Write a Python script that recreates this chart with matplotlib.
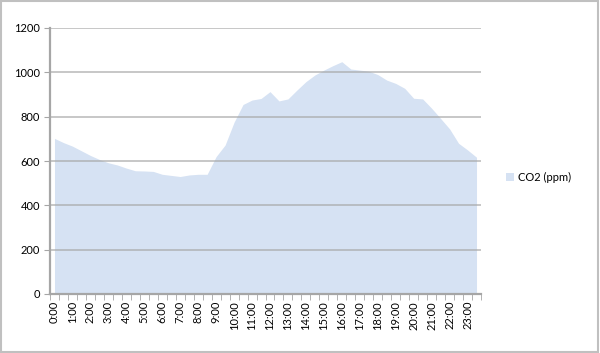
import numpy as np
import matplotlib
matplotlib.use('Agg')
import matplotlib.pyplot as plt
from matplotlib.patches import Rectangle, Patch

# half-hourly CO2 readings, 0:00 .. 23:30
times = [f"{h}:{m:02d}" for h in range(24) for m in (0, 30)]
co2 = [702, 683, 667, 646, 625, 607, 592, 582, 568, 556,
       555, 553, 540, 535, 530, 537, 540, 540, 620, 672,
       775, 855, 875, 882, 913, 871, 880, 920, 958, 988,
       1010, 1030, 1048, 1015, 1010, 1005, 990, 965, 950, 928,
       883, 880, 838, 792, 745, 680, 650, 617]
series_name = "CO2 (ppm)"
y_ticks = [0, 200, 400, 600, 800, 1000, 1200]

plt.rcParams['font.family'] = ['Lato', 'DejaVu Sans']

fig = plt.figure(figsize=(6, 3.53), dpi=100)
ax = fig.add_axes([50/600, 1 - 294/353, 431/600, 266/353])

x = np.arange(len(co2))
ax.fill_between(x, 0, co2, color="#D6E2F3", lw=0, zorder=1)

ax.set_xlim(-0.5, len(co2) - 0.5)
ax.set_ylim(0, 1200)
ax.set_yticks(y_ticks)
ax.set_yticklabels([str(v) for v in y_ticks], fontsize=8, color="black")
for v in y_ticks[1:]:
    ax.axhline(v, color="#A6A6A6", lw=1.1, alpha=0.8, zorder=2)

# hourly labels, tick marks at category boundaries
ax.set_xticks(x[::2])
ax.set_xticklabels(times[::2], rotation=90, fontsize=8, color="black")
ax.set_xticks(np.arange(-0.5, len(co2)), minor=True)
ax.tick_params(axis='x', which='major', length=0, pad=5)
ax.tick_params(axis='x', which='minor', length=4, color="#A6A6A6", direction='out')
ax.tick_params(axis='y', length=4, color="#A6A6A6", pad=3)

for sp in ["top", "right"]:
    ax.spines[sp].set_visible(False)
for sp in ["left", "bottom"]:
    ax.spines[sp].set_color("#A6A6A6")
    ax.spines[sp].set_linewidth(1.6)
    ax.spines[sp].set_zorder(3)

fig.legend(handles=[Patch(facecolor="#D6E2F3", edgecolor="none", label=series_name)],
           loc='center left', bbox_to_anchor=(506/600, 1 - 177/353),
           frameon=False, fontsize=8, handlelength=0.7, handleheight=0.7,
           handletextpad=0.4, borderpad=0, borderaxespad=0)

# chart border
fig.patches.append(Rectangle((0.002, 0.004), 0.994, 0.993, transform=fig.transFigure,
                             fill=False, edgecolor="#C0C0C0", lw=1.5))

fig.savefig("out.png", dpi=100)
